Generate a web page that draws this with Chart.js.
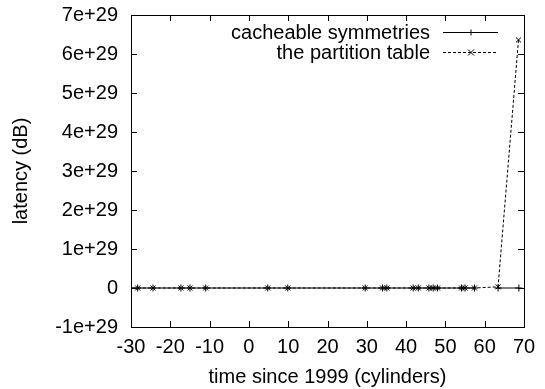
<!DOCTYPE html>
<html>
<head>
<meta charset="utf-8">
<script src="https://cdn.jsdelivr.net/npm/chart.js@4"></script>
<style>
  html, body { margin: 0; padding: 0; background: #fff; }
  #wrap { width: 545px; height: 389px; }
</style>
</head>
<body>
<div id="wrap"><canvas id="myChart" width="545" height="389"></canvas></div>
<script>
// Series data
const cacheX = [-30, -28.3, -24.4, -17.3, -15.0, -11.0, 4.8, 9.9, 29.6, 34.0, 35.1, 41.8, 43.1, 45.8, 46.9, 48.0, 54.1, 55.0, 57.4, null, 63.4, 68.7];
const cacheY = [0, 0, 0, 0, 0, 0, 0, 0, 0, 0, 0, 0, 0, 0, 0, 0, 0, 0, 0, null, 0, 0];

const partX = [-28.3, -24.4, -17.3, -15.0, -11.0, 4.8, 9.9, 29.6, 34.0, 35.1, 41.8, 43.1, 45.8, 46.9, 48.0, 54.1, 55.0, 57.4, 63.4, 68.6];
const partY = [0, 0, 0, 0, 0, 0, 0, 0, 0, 0, 0, 0, 0, 0, 0, 0, 0, 0, 0.03e29, 6.36e29];

const xTicks = [-30, -20, -10, 0, 10, 20, 30, 40, 50, 60, 70];
const yTicks = [-1e29, 0, 1e29, 2e29, 3e29, 4e29, 5e29, 6e29, 7e29];

const seriesLabels = ["cacheable symmetries", "the partition table"];

const FONT = "'Liberation Sans', Arial, sans-serif";
const FSIZE = 20;

function toPoints(xs, ys) {
  return xs.map((x, i) => ({ x: x, y: ys[i] }));
}

// frame, inward ticks on all four sides, and the gnuplot-style legend
const framePlugin = {
  id: "frame",
  afterDatasetsDraw(chart) {
    const c = chart.ctx;
    const a = chart.chartArea;
    const xs = chart.scales.x;
    const ys = chart.scales.y;
    c.save();
    c.strokeStyle = "#000";
    c.lineWidth = 1;
    c.setLineDash([]);
    c.strokeRect(a.left + 0.5, a.top + 0.5, a.right - a.left, a.bottom - a.top);
    c.beginPath();
    xTicks.forEach((v) => {
      const p = Math.round(xs.getPixelForValue(v)) + 0.5;
      c.moveTo(p, a.bottom); c.lineTo(p, a.bottom - 6);
      c.moveTo(p, a.top); c.lineTo(p, a.top + 6);
    });
    yTicks.forEach((v) => {
      const p = Math.round(ys.getPixelForValue(v)) + 0.5;
      c.moveTo(a.left, p); c.lineTo(a.left + 6, p);
      c.moveTo(a.right, p); c.lineTo(a.right - 6, p);
    });
    c.stroke();

    // legend
    c.font = FSIZE + "px " + FONT;
    c.fillStyle = "#000";
    c.textAlign = "right";
    c.textBaseline = "middle";
    const rows = [32, 52];
    chart.data.datasets.forEach((ds, i) => {
      const y = rows[i] + 0.5;
      c.fillText(ds.label, 430, rows[i] + 1);
      c.strokeStyle = ds.borderColor;
      c.setLineDash(ds.borderDash || []);
      c.beginPath();
      c.moveTo(443, y); c.lineTo(498, y);
      c.stroke();
      c.setLineDash([]);
      c.beginPath();
      if (ds.pointStyle === "cross") {
        c.moveTo(471 - 3, y); c.lineTo(471 + 3, y);
        c.moveTo(471, y - 3); c.lineTo(471, y + 3);
      } else {
        c.moveTo(471 - 3, y - 3); c.lineTo(471 + 3, y + 3);
        c.moveTo(471 - 3, y + 3); c.lineTo(471 + 3, y - 3);
      }
      c.stroke();
    });
    c.restore();
  },
};

const ctx = document.getElementById("myChart");

const config = {
  type: "scatter",
  data: {
    datasets: [
      {
        label: seriesLabels[0],
        data: toPoints(cacheX, cacheY),
        showLine: true,
        spanGaps: false,
        borderColor: "#000",
        backgroundColor: "#000",
        borderWidth: 1,
        pointStyle: "cross",
        pointRadius: 3.5,
        pointBorderWidth: 1,
      },
      {
        label: seriesLabels[1],
        data: toPoints(partX, partY),
        showLine: true,
        borderColor: "#000",
        backgroundColor: "#000",
        borderWidth: 1,
        borderDash: [3, 2],
        pointStyle: "crossRot",
        pointRadius: 3.5,
        pointBorderWidth: 1,
      },
    ],
  },
  options: {
    responsive: false,
    animation: false,
    layout: { padding: { top: 15, right: 21, left: 0, bottom: 0 } },
    plugins: {
      legend: { display: false },
      tooltip: { enabled: false },
    },
    scales: {
      x: {
        type: "linear",
        min: -30,
        max: 70,
        afterBuildTicks: (s) => { s.ticks = xTicks.map((v) => ({ value: v })); },
        afterFit: (s) => { s.height = 62; s.paddingLeft = 0; s.paddingRight = 0; },
        grid: { display: false, drawTicks: false },
        border: { display: false },
        ticks: { color: "#000", font: { family: FONT, size: FSIZE }, padding: 8, maxRotation: 0 },
        title: {
          display: true,
          text: "time since 1999 (cylinders)",
          color: "#000",
          font: { family: FONT, size: FSIZE },
          padding: { top: 0, bottom: 0 },
        },
      },
      y: {
        type: "linear",
        min: -1e29,
        max: 7e29,
        afterBuildTicks: (s) => { s.ticks = yTicks.map((v) => ({ value: v })); },
        afterFit: (s) => { s.width = 131; s.paddingTop = 0; s.paddingBottom = 0; },
        grid: { display: false, drawTicks: false },
        border: { display: false },
        ticks: {
          color: "#000",
          font: { family: FONT, size: FSIZE },
          padding: 13,
          callback: (v) => {
            const n = Math.round(v / 1e29);
            return n === 0 ? "0" : n + "e+29";
          },
        },
        title: {
          display: true,
          text: "latency (dB)",
          color: "#000",
          font: { family: FONT, size: FSIZE },
          padding: { top: 9, bottom: 0 },
        },
      },
    },
  },
  plugins: [framePlugin],
};

const myChart = new Chart(ctx, config);
</script>
</body>
</html>
